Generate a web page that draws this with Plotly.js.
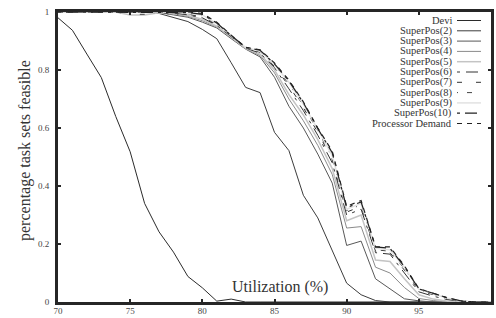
<!DOCTYPE html>
<html>
<head>
<meta charset="utf-8">
<script src="https://cdn.plot.ly/plotly-3.0.1.min.js"></script>
<style>html,body{margin:0;padding:0;background:#fff;}#chart{width:496px;height:318px;}</style>
</head>
<body>
<div id="chart"></div>
<script>
const utilization = [70,71,72,73,74,75,76,77,78,79,80,81,82,83,84,85,86,87,88,89,90,91,92,93,94,95,96,97,98,99,100];

const devi  = [0.98,0.937,0.855,0.774,0.64,0.518,0.34,0.242,0.172,0.088,0.049,0.003,0.01,0,0,0,0,0,0,0,0,0,0,0,0,0,0,0,0,0,0];
const sp2   = [1,1,1,1,1,1,1,0.995,0.98,0.967,0.94,0.908,0.825,0.74,0.722,0.585,0.522,0.368,0.29,0.18,0.065,0.025,0.005,0,0,0,0,0,0,0,0];
const sp3   = [1,1,1,1,1,1,1,0.998,0.99,0.982,0.965,0.945,0.908,0.872,0.845,0.775,0.675,0.600,0.510,0.410,0.195,0.210,0.080,0.045,0.011,0.004,0,0,0,0,0];
const sp4   = [1,1,1,1,1,0.998,0.998,0.997,0.993,0.985,0.970,0.948,0.911,0.874,0.850,0.790,0.700,0.625,0.540,0.440,0.255,0.260,0.120,0.100,0.050,0.012,0.005,0,0,0,0];
const sp5   = [1,1,1,1,1,0.99,0.99,0.997,0.995,0.988,0.975,0.951,0.913,0.875,0.855,0.800,0.715,0.645,0.560,0.460,0.280,0.300,0.145,0.140,0.080,0.025,0.010,0.003,0,0,0];
const sp6   = [1,1,1,1,1,1,1,1,0.997,0.990,0.980,0.954,0.915,0.876,0.858,0.808,0.735,0.660,0.575,0.480,0.300,0.320,0.170,0.165,0.100,0.035,0.020,0.008,0.002,0,0];
const sp7   = [1,1,1,1,1,1,1,1,0.998,0.992,0.984,0.956,0.916,0.877,0.861,0.812,0.745,0.670,0.585,0.490,0.310,0.330,0.175,0.170,0.110,0.040,0.025,0.010,0.003,0,0];
const sp8   = [1,1,1,1,1,0.992,0.992,1,0.99,0.994,0.987,0.958,0.917,0.877,0.863,0.815,0.752,0.677,0.590,0.500,0.315,0.335,0.180,0.175,0.115,0.042,0.027,0.012,0.003,0,0];
const sp9   = [1,1,1,1,1,1,1,1,1,0.996,0.990,0.960,0.918,0.878,0.865,0.818,0.758,0.682,0.595,0.505,0.320,0.340,0.185,0.180,0.120,0.044,0.028,0.013,0.003,0,0];
const sp10  = [1,1,1,1,1,1,1,1,1,0.998,0.992,0.962,0.919,0.878,0.868,0.821,0.762,0.687,0.598,0.515,0.325,0.345,0.190,0.185,0.122,0.045,0.030,0.014,0.003,0,0];
const procDemand = [1,1,1,1,1,1,1,1,1,1,0.995,0.965,0.920,0.878,0.870,0.824,0.765,0.690,0.600,0.520,0.330,0.350,0.190,0.190,0.125,0.046,0.030,0.014,0.003,0,0];

const seriesNames = ['Devi','SuperPos(2)','SuperPos(3)','SuperPos(4)','SuperPos(5)','SuperPos(6)','SuperPos(7)','SuperPos(8)','SuperPos(9)','SuperPos(10)','Processor Demand'];
const xTickVals = [70,75,80,85,90,95,100];
const xTickText = ['70','75','80','85','90','95','100'];
const yTickVals = [0,0.2,0.4,0.6,0.8,1];
const yTickText = ['0','0.2','0.4','0.6','0.8','1'];
const xTitle = 'Utilization (%)';
const yTitle = 'percentage task sets feasible';

const seriesValues = [devi,sp2,sp3,sp4,sp5,sp6,sp7,sp8,sp9,sp10,procDemand];
const styles = [
  {color:'#2b2b2b', width:1, dash:'solid'},
  {color:'#3c3c3c', width:1, dash:'solid'},
  {color:'#585858', width:1, dash:'solid'},
  {color:'#8a8a8a', width:1, dash:'solid'},
  {color:'#c4c4c4', width:1.5, dash:'solid'},
  {color:'#333333', width:1, dash:'3px,6px,12px,6px'},
  {color:'#333333', width:1, dash:'5px,14px'},
  {color:'#444444', width:1, dash:'1px,9px,5px,9px'},
  {color:'#e2e2e2', width:1.5, dash:'solid'},
  {color:'#222222', width:1.2, dash:'3px,5px,12px,5px'},
  {color:'#222222', width:1.2, dash:'5px,5px'}
];

const traces = seriesValues.map((vals,i) => ({
  x: utilization, y: vals, type:'scatter', mode:'lines', name: seriesNames[i],
  line: {color: styles[i].color, width: styles[i].width, dash: styles[i].dash},
  showlegend:false, hoverinfo:'skip', cliponaxis:false
}));

const serif = '"Liberation Serif", "Times New Roman", serif';
const margin = {l:58, r:5, t:12, b:16};
const plotW = 496 - margin.l - margin.r;
const plotH = 318 - margin.t - margin.b;
const rowTop = 20.5, rowStep = 10.3;
const annotations = [];
const shapes = [];
seriesNames.forEach((nm,i) => {
  const ypx = rowTop + i*rowStep - margin.t;
  const yp = 1 - ypx/plotH;
  annotations.push({xref:'paper', yref:'paper', x:(453-margin.l)/plotW, y:yp, xanchor:'right', yanchor:'middle',
    text:nm, showarrow:false, borderpad:0, font:{family:serif, size:10.5, color:'#333'}});
  shapes.push({type:'line', xref:'paper', yref:'paper', x0:(457-margin.l)/plotW, x1:(481-margin.l)/plotW, y0:yp, y1:yp,
    line:{color:styles[i].color, width:styles[i].width, dash:styles[i].dash}});
});
annotations.push({xref:'paper', yref:'paper', x:(280-margin.l)/plotW, y:1-(287-margin.t)/plotH, xanchor:'center', yanchor:'middle',
  text:xTitle, showarrow:false, font:{family:serif, size:16, color:'#333'}});
annotations.push({xref:'paper', yref:'paper', x:(25-margin.l)/plotW, y:1-(151-margin.t)/plotH, xanchor:'center', yanchor:'middle',
  text:yTitle, textangle:-90, showarrow:false, font:{family:serif, size:16, color:'#333'}});

const axisCommon = {
  showline:true, linewidth:3, linecolor:'#262626', mirror:'allticks',
  ticks:'inside', ticklen:3, tickwidth:2, tickcolor:'#262626',
  showgrid:false, zeroline:false, tickmode:'array',
  tickfont:{family:serif, size:9, color:'#444'}
};
const layout = {
  width:496, height:318, margin: margin, paper_bgcolor:'#fff', plot_bgcolor:'#fff',
  xaxis: Object.assign({}, axisCommon, {range:[70,100], tickvals:xTickVals, ticktext:xTickText, ticklabelstandoff:-2}),
  yaxis: Object.assign({}, axisCommon, {range:[0,1], tickvals:yTickVals, ticktext:yTickText, ticklabelstandoff:4}),
  annotations: annotations, shapes: shapes, showlegend:false
};
Plotly.newPlot('chart', traces, layout, {staticPlot:true, displayModeBar:false});
</script>
</body>
</html>
